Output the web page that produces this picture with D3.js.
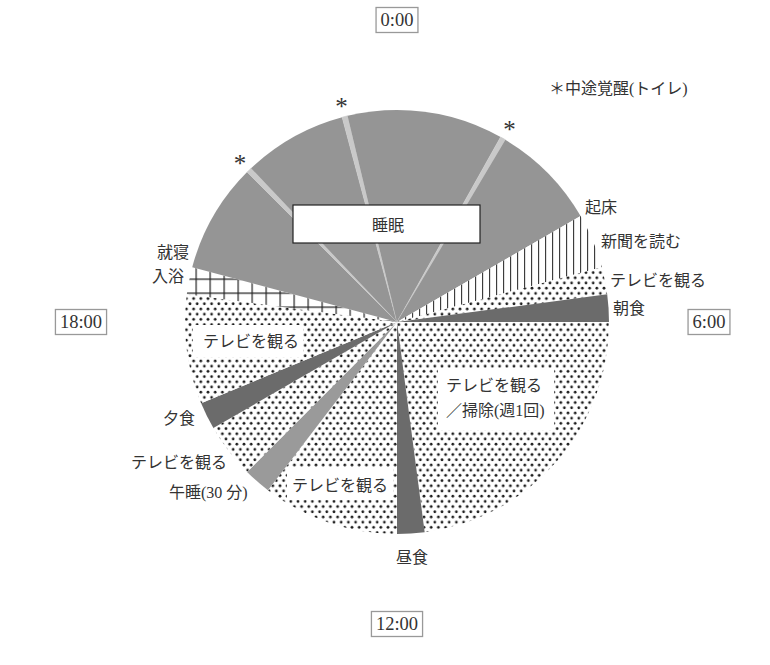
<!DOCTYPE html>
<html>
<head>
<meta charset="utf-8">
<script src="https://cdn.jsdelivr.net/npm/d3@7"></script>
<style>
  body { margin: 0; background: #fff; }
  text { font-family: "Liberation Serif", "Noto Sans CJK JP", serif; fill: #333; }
</style>
</head>
<body>
<div id="chart"></div>
<script>

// one day, clockwise from 0:00 (hours per activity)
var activities = ["睡眠", "中途覚醒", "睡眠", "新聞を読む", "テレビを観る", "朝食",
                  "テレビを観る／掃除", "昼食", "テレビを観る", "午睡", "テレビを観る",
                  "夕食", "テレビを観る", "入浴", "睡眠", "中途覚醒", "睡眠", "中途覚醒", "睡眠"];
var hours = [1.95, 0.1, 1.95, 1, 0.5, 0.5,
             5.5, 0.5, 2.5, 0.5, 1,
             0.5, 2, 0.5, 2, 0.1, 1.9, 0.1, 0.9];
var clockTimes = [0, 6, 12, 18];
var clockLabels = ["0:00", "6:00", "12:00", "18:00"];

var width = 770,
    height = 665,
    cx = 397,
    cy = 322,
    radius = 212;

var svg = d3.select("#chart")
            .append("svg")
            .attr("width", width)
            .attr("height", height);

// patterns for the textured activities
var defs = svg.append("defs");

var dots = defs.append("pattern")
               .attr("id", "dots")
               .attr("patternUnits", "userSpaceOnUse")
               .attr("width", 7.2)
               .attr("height", 10.4);
dots.append("rect").attr("width", 7.2).attr("height", 10.4).attr("fill", "#fff");
dots.append("circle").attr("cx", 1.8).attr("cy", 2.6).attr("r", 1.35).attr("fill", "#1a1a1a");
dots.append("circle").attr("cx", 5.4).attr("cy", 7.8).attr("r", 1.35).attr("fill", "#1a1a1a");

var vlines = defs.append("pattern")
                 .attr("id", "vlines")
                 .attr("patternUnits", "userSpaceOnUse")
                 .attr("x", 1)
                 .attr("width", 7)
                 .attr("height", 7);
vlines.append("rect").attr("width", 7).attr("height", 7).attr("fill", "#fff");
vlines.append("path").attr("d", "M0.6,0V7").attr("stroke", "#333").attr("stroke-width", 1.1);

var grid = defs.append("pattern")
               .attr("id", "grid")
               .attr("patternUnits", "userSpaceOnUse")
               .attr("x", 8.5)
               .attr("y", 12.5)
               .attr("width", 14)
               .attr("height", 14);
grid.append("rect").attr("width", 14).attr("height", 14).attr("fill", "#fff");
grid.append("path").attr("d", "M0.6,0V14M0,0.6H14").attr("stroke", "#222").attr("stroke-width", 1.2);

// fill for each kind of activity
var fills = {
  "睡眠": "#959595",
  "中途覚醒": "#c9c9c9",
  "新聞を読む": "url(#vlines)",
  "テレビを観る": "url(#dots)",
  "テレビを観る／掃除": "url(#dots)",
  "朝食": "#6b6b6b",
  "昼食": "#6b6b6b",
  "夕食": "#6b6b6b",
  "午睡": "#9a9a9a",
  "入浴": "url(#grid)"
};

var pie = d3.pie()
            .sort(null)
            .value(function(d) { return d; })
            .startAngle(0)
            .endAngle(2 * Math.PI);

var arc = d3.arc()
            .innerRadius(0)
            .outerRadius(radius);

var angle = d3.scaleLinear()
              .domain([0, 24])
              .range([0, 2 * Math.PI]);

function polar(t, r) {
  return [cx + r * Math.sin(angle(t)), cy - r * Math.cos(angle(t))];
}

var pieG = svg.append("g")
              .attr("transform", "translate(" + cx + "," + cy + ")");

var slices = pie(hours);

pieG.selectAll(".slice")
    .data(slices)
    .enter()
    .append("path")
    .attr("class", "slice")
    .attr("d", arc)
    .attr("fill", function(d, i) { return fills[activities[i]]; })
    .attr("stroke", function(d, i) { return activities[i] == "中途覚醒" ? "#c9c9c9" : "none"; })
    .attr("stroke-width", 0.6);

// asterisks over each night-time wake up
slices.forEach(function(d, i) {
  if (activities[i] != "中途覚醒") return;
  var t = (d.startAngle + d.endAngle) / 2 / (2 * Math.PI) * 24;
  var p = polar(t, 225);
  svg.append("text")
     .attr("x", p[0])
     .attr("y", p[1] + 11)
     .attr("text-anchor", "middle")
     .style("font-size", "25px")
     .text("*");
});

// white label boxes inside the pie
var boxG = svg.append("g");

boxG.append("rect")
    .attr("x", 293).attr("y", 205).attr("width", 187).attr("height", 38)
    .attr("fill", "#fff").attr("stroke", "#222").attr("stroke-width", 1.2);
boxG.append("text")
    .attr("x", 388).attr("y", 225)
    .attr("text-anchor", "middle").attr("dominant-baseline", "central")
    .style("font-size", "16px")
    .text("睡眠");

var innerLabels = [
  {box: [193, 325, 110, 32], lines: ["テレビを観る"], x: 203, y: 341},
  {box: [438, 368, 116, 62], lines: ["テレビを観る", "／掃除(週1回)"], x: 446, y: 385},
  {box: [287, 468, 106, 32], lines: ["テレビを観る"], x: 292, y: 485}
];

innerLabels.forEach(function(l) {
  boxG.append("rect")
      .attr("x", l.box[0]).attr("y", l.box[1])
      .attr("width", l.box[2]).attr("height", l.box[3])
      .attr("fill", "#fff");
  l.lines.forEach(function(s, j) {
    boxG.append("text")
        .attr("x", l.x).attr("y", l.y + j * 25)
        .attr("dominant-baseline", "central")
        .style("font-size", "16px")
        .text(s);
  });
});

// labels around the pie
var outerLabels = [
  ["起床", 585, 207],
  ["新聞を読む", 601, 241],
  ["テレビを観る", 610, 280],
  ["朝食", 613, 308],
  ["就寝", 157, 252],
  ["入浴", 152, 276],
  ["夕食", 163, 418],
  ["テレビを観る", 131, 462],
  ["午睡(30 分)", 169, 492],
  ["昼食", 396, 557],
  ["＊中途覚醒(トイレ)", 549, 88]
];

svg.selectAll(".outer")
   .data(outerLabels)
   .enter()
   .append("text")
   .attr("class", "outer")
   .attr("x", function(d) { return d[1]; })
   .attr("y", function(d) { return d[2]; })
   .attr("dominant-baseline", "central")
   .style("font-size", "16px")
   .text(function(d) { return d[0]; });

// boxed clock times at the four quarters
var ticks = svg.selectAll(".clock")
               .data(clockTimes)
               .enter()
               .append("g")
               .attr("class", "clock")
               .attr("transform", function(d) {
                 var r = (d % 12 == 0) ? 302 : 312;
                 if (d == 18) r = 316;
                 var p = polar(d, r);
                 return "translate(" + p[0] + "," + p[1] + ")";
               });

ticks.append("text")
     .attr("text-anchor", "middle")
     .attr("dominant-baseline", "central")
     .style("font-size", "18.5px")
     .text(function(d, i) { return clockLabels[i]; });

ticks.each(function() {
  var g = d3.select(this);
  var b = g.select("text").node().getBBox();
  g.insert("rect", "text")
   .attr("x", b.x - 4.5).attr("y", -12.5)
   .attr("width", b.width + 9).attr("height", 25)
   .attr("fill", "#fff").attr("stroke", "#999").attr("stroke-width", 1.3);
});

</script>
</body>
</html>
